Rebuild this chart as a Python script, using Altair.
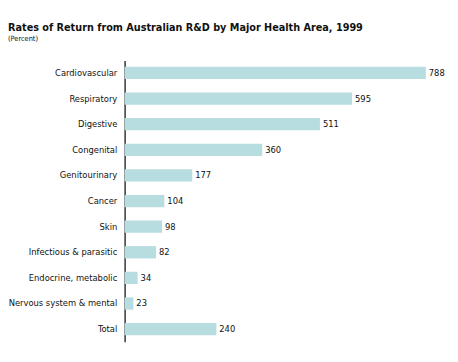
import altair as alt
import pandas as pd

categories = ["Cardiovascular", "Respiratory", "Digestive", "Congenital", "Genitourinary",
              "Cancer", "Skin", "Infectious & parasitic", "Endocrine, metabolic",
              "Nervous system & mental", "Total"]
values = [788, 595, 511, 360, 177, 104, 98, 82, 34, 23, 240]

df = pd.DataFrame({"area": categories, "rate": values})

FONT = "DejaVu Sans Condensed, Liberation Sans, sans-serif"

y = alt.Y("area:N", sort=categories, title=None,
          scale=alt.Scale(paddingInner=0.52, paddingOuter=0.25),
          axis=alt.Axis(domain=True, domainColor="#333333", domainWidth=1.5, ticks=False,
                        labelFontSize=9.5, labelColor="#111111", labelFont=FONT,
                        labelPadding=8, grid=False))
x = alt.X("rate:Q", title=None, scale=alt.Scale(domain=[0, 800], nice=False), axis=None)

bars = alt.Chart(df).mark_bar(color="#b7dde0").encode(x=x, y=y)
labels = alt.Chart(df).mark_text(align="left", baseline="middle", dx=3, fontSize=9.5,
                                 font=FONT, color="#111111").encode(
    x=x, y=y, text=alt.Text("rate:Q"))

chart = (bars + labels).properties(
    width=312, height=287,
    title=alt.Title("Rates of Return from Australian R&D by Major Health Area, 1999",
                    subtitle="(Percent)", anchor="start", frame="bounds",
                    font=FONT, fontSize=11, fontWeight="bold", color="#111111",
                    subtitleFont=FONT, subtitleFontSize=7.5, subtitleColor="#111111",
                    subtitlePadding=3, offset=18),
    padding={"left": 0, "top": 10, "right": 5, "bottom": 5},
    background="white",
).configure_view(stroke=None)

chart.save("out.html", embed_options={"renderer": "svg", "actions": False})
